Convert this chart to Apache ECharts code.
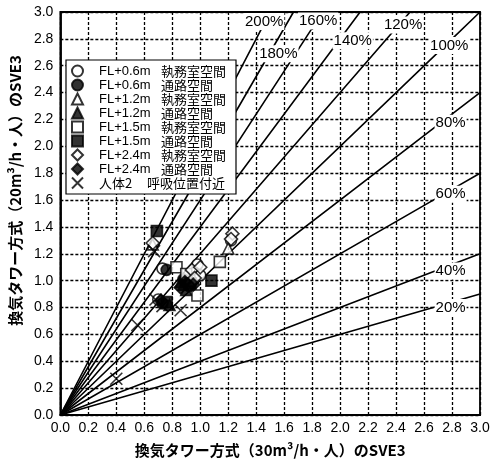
<!DOCTYPE html>
<html>
<head>
<meta charset="utf-8">
<script src="https://cdn.jsdelivr.net/npm/echarts@6/dist/echarts.min.js"></script>
<style>
  html, body { margin: 0; padding: 0; background: #fff; }
  #chart { width: 494px; height: 470px; }
</style>
</head>
<body>
<div id="chart"></div>
<script>
// ratio lines through the origin
const ratioLabels = ['20%', '40%', '60%', '80%', '100%', '120%', '140%', '160%', '180%', '200%'];
const ratioSlopes = [0.3, 0.4, 0.6, 0.8, 1.0, 1.2, 1.4, 1.6, 1.8, 2.0];
const ratioLabelX = [2.79, 2.79, 2.79, 2.79, 2.78, 2.45, 1.99, 1.843, 1.494, 1.457];
const ratioLabelOffset = [[0, 5], [0, 6], [0, 4], [0, 8], [0, 4], [0, 5], [14, 0], [0, 2], [9, 0], [0, -2]];

// measured points [SVE3 30m3/h, SVE3 20m3/h]
const fl06Office = [[0.73, 1.09], [0.98, 1.12], [0.96, 1.06], [1.22, 1.30], [1.00, 1.04], [0.70, 0.86]];
const fl06Aisle = [[0.76, 1.08], [0.92, 0.96], [0.73, 0.83], [0.88, 1.01]];
const fl12Office = [[1.20, 1.24], [0.92, 1.00], [0.66, 1.27]];
const fl12Aisle = [[0.88, 0.97], [0.90, 0.93], [0.78, 0.82], [0.86, 0.99]];
const fl15Office = [[0.83, 1.10], [0.98, 0.89], [1.14, 1.14], [0.90, 1.05]];
const fl15Aisle = [[0.69, 1.37], [1.08, 1.00], [0.76, 0.84], [0.93, 0.98]];
const fl24Office = [[0.66, 1.28], [1.23, 1.35], [1.22, 1.31], [0.94, 1.08], [1.00, 1.10], [0.96, 1.02]];
const fl24Aisle = [[0.89, 0.99], [0.86, 0.95], [0.72, 0.85], [0.95, 0.97]];
const body2 = [[0.40, 0.27], [0.55, 0.67], [0.68, 0.86], [0.73, 0.81], [0.86, 0.78], [0.67, 1.22]];

const pointSeries = [
  { name: 'FL+0.6m 執務室空間', data: fl06Office, symbol: 'circle', fill: '#fff', size: 11 },
  { name: 'FL+0.6m 通路空間', data: fl06Aisle, symbol: 'circle', fill: '#000', size: 11 },
  { name: 'FL+1.2m 執務室空間', data: fl12Office, symbol: 'triangle', fill: '#fff', size: 11 },
  { name: 'FL+1.2m 通路空間', data: fl12Aisle, symbol: 'triangle', fill: '#000', size: 11 },
  { name: 'FL+1.5m 執務室空間', data: fl15Office, symbol: 'rect', fill: '#fff', size: 11 },
  { name: 'FL+1.5m 通路空間', data: fl15Aisle, symbol: 'rect', fill: '#000', size: 11 },
  { name: 'FL+2.4m 執務室空間', data: fl24Office, symbol: 'diamond', fill: '#fff', size: 13 },
  { name: 'FL+2.4m 通路空間', data: fl24Aisle, symbol: 'diamond', fill: '#000', size: 13 },
  { name: '人体2 呼吸位置付近', data: body2, symbol: 'path://M0,0L10,10M10,0L0,10', fill: '#000', size: 12 }
];

const AX = 3;
const lineSeries = ratioSlopes.map(function (k, i) {
  const xe = Math.min(AX, AX / k);
  const xl = ratioLabelX[i];
  return {
    type: 'line',
    name: ratioLabels[i],
    symbol: 'circle',
    symbolSize: 0,
    showSymbol: true,
    silent: true,
    z: 2,
    lineStyle: { color: '#000', width: 1.6 },
    label: { show: false },
    data: [
      [0, 0],
      { value: [xl, k * xl], label: {
          show: true, formatter: ratioLabels[i], position: 'inside',
          offset: ratioLabelOffset[i],
          color: '#000', fontSize: 15, fontFamily: 'Liberation Sans',
          backgroundColor: '#fff', padding: [1, 1]
        } },
      [xe, k * xe]
    ]
  };
});

const scatterSeries = pointSeries.map(function (s) {
  return {
    type: 'scatter',
    name: s.name,
    symbol: s.symbol,
    symbolSize: s.size,
    z: 3,
    itemStyle: { color: s.fill, borderColor: '#000', borderWidth: 1.6 },
    data: s.data
  };
});

const chart = echarts.init(document.getElementById('chart'));
const gridLine = { show: true, lineStyle: { color: '#000', type: [3, 2], width: 1.3 } };
const tickFont = { color: '#000', fontSize: 14, fontFamily: 'Liberation Sans' };
const nameFont = { color: '#000', fontSize: 15, fontWeight: 'bold', fontFamily: 'Noto Sans CJK JP' };
const legendToken = { fontSize: 13, lineHeight: 14, verticalAlign: 'middle', color: '#000' };

chart.setOption({
  animation: false,
  grid: { left: 60, right: 14, top: 12, bottom: 55, show: true, borderColor: '#000', borderWidth: 1.8 },
  legend: {
    data: pointSeries.map(function (s) { return s.name; }),
    orient: 'vertical',
    left: 66, top: 60,
    padding: [4, 10, 4, 5],
    itemGap: 0,
    itemWidth: 11, itemHeight: 11,
    backgroundColor: '#fff', borderColor: '#000', borderWidth: 1.2,
    z: 10,
    formatter: function (name) {
      const parts = name.split(' ');
      const key = parts[0] === '人体2' ? 'c' : 'a';
      return '{' + key + '|' + parts[0] + '}{b|' + parts[1] + '}';
    },
    textStyle: {
      color: '#000', fontSize: 13, lineHeight: 14, fontFamily: 'Liberation Sans',
      rich: {
        a: Object.assign({ width: 62, padding: [0, 0, 0, 11], fontFamily: 'Liberation Sans' }, legendToken),
        c: Object.assign({ width: 48, padding: [0, 0, 0, 11], fontFamily: 'Noto Sans CJK JP' }, legendToken),
        b: Object.assign({ fontFamily: 'Noto Sans CJK JP' }, legendToken)
      }
    }
  },
  xAxis: {
    type: 'value', min: 0, max: 3, interval: 0.2,
    name: '換気タワー方式（30m³/h・人）のSVE3',
    nameLocation: 'middle', nameGap: 28, nameTextStyle: nameFont,
    axisLine: { show: true, lineStyle: { color: '#000', width: 1.8 } },
    axisTick: { show: false },
    axisLabel: Object.assign({ margin: 6, formatter: function (v) { return v.toFixed(1); } }, tickFont),
    splitLine: gridLine
  },
  yAxis: {
    type: 'value', min: 0, max: 3, interval: 0.2,
    name: '換気タワー方式（20m³/h・人）のSVE3',
    nameLocation: 'middle', nameGap: 35,
    nameTextStyle: Object.assign({ padding: [0, 0, 0, 46] }, nameFont),
    axisLine: { show: true, lineStyle: { color: '#000', width: 1.8 } },
    axisTick: { show: false },
    axisLabel: Object.assign({ margin: 7, formatter: function (v) { return v.toFixed(1); } }, tickFont),
    splitLine: gridLine
  },
  series: lineSeries.concat(scatterSeries)
});
</script>
</body>
</html>
